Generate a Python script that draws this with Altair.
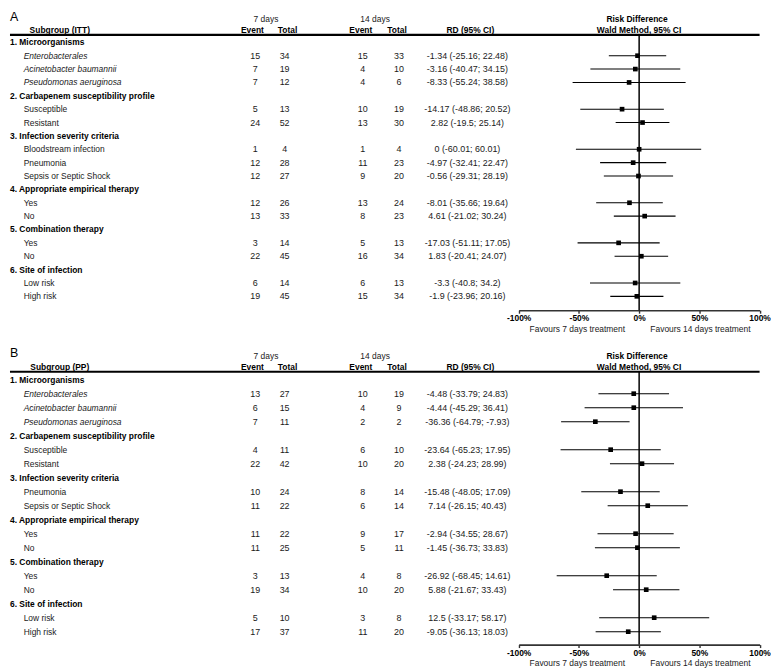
import altair as alt
import pandas as pd

FONT = "Liberation Sans"
TXT = "#1a1a1a"

# ---------------- Panel A (ITT) ----------------
a_labels = ["1. Microorganisms", "Enterobacterales", "Acinetobacter baumannii", "Pseudomonas aeruginosa",
            "2. Carbapenem susceptibility profile", "Susceptible", "Resistant",
            "3. Infection severity criteria", "Bloodstream infection", "Pneumonia", "Sepsis or Septic Shock",
            "4. Appropriate empirical therapy", "Yes", "No",
            "5. Combination therapy", "Yes", "No",
            "6. Site of infection", "Low risk", "High risk"]
a_kind = ["section", "italic", "italic", "italic", "section", "item", "item", "section", "item", "item", "item",
          "section", "item", "item", "section", "item", "item", "section", "item", "item"]
a_ev7 = [None, 15, 7, 7, None, 5, 24, None, 1, 12, 12, None, 12, 13, None, 3, 22, None, 6, 19]
a_tot7 = [None, 34, 19, 12, None, 13, 52, None, 4, 28, 27, None, 26, 33, None, 14, 45, None, 14, 45]
a_ev14 = [None, 15, 4, 4, None, 10, 13, None, 1, 11, 9, None, 13, 8, None, 5, 16, None, 6, 15]
a_tot14 = [None, 33, 10, 6, None, 19, 30, None, 4, 23, 20, None, 24, 23, None, 13, 34, None, 13, 34]
a_rdtxt = [None, "-1.34 (-25.16; 22.48)", "-3.16 (-40.47; 34.15)", "-8.33 (-55.24; 38.58)", None,
           "-14.17 (-48.86; 20.52)", "2.82 (-19.5; 25.14)", None, "0 (-60.01; 60.01)",
           "-4.97 (-32.41; 22.47)", "-0.56 (-29.31; 28.19)", None, "-8.01 (-35.66; 19.64)",
           "4.61 (-21.02; 30.24)", None, "-17.03 (-51.11; 17.05)", "1.83 (-20.41; 24.07)", None,
           "-3.3 (-40.8; 34.2)", "-1.9 (-23.96; 20.16)"]
a_rd = [None, -1.34, -3.16, -8.33, None, -14.17, 2.82, None, 0, -4.97, -0.56, None, -8.01, 4.61,
        None, -17.03, 1.83, None, -3.3, -1.9]
a_lo = [None, -25.16, -40.47, -55.24, None, -48.86, -19.5, None, -52.5, -32.41, -29.31, None, -35.66, -21.02,
        None, -51.11, -20.41, None, -40.8, -23.96]
a_hi = [None, 22.48, 34.15, 38.58, None, 20.52, 25.14, None, 51.5, 22.47, 28.19, None, 19.64, 30.24,
        None, 17.05, 24.07, None, 34.2, 20.16]

# ---------------- Panel B (PP) ----------------
b_labels = ["1. Microorganisms", "Enterobacterales", "Acinetobacter baumannii", "Pseudomonas aeruginosa",
            "2. Carbapenem susceptibility profile", "Susceptible", "Resistant",
            "3. Infection severity criteria", "Pneumonia", "Sepsis or Septic Shock",
            "4. Appropriate empirical therapy", "Yes", "No",
            "5. Combination therapy", "Yes", "No",
            "6. Site of infection", "Low risk", "High risk"]
b_kind = ["section", "italic", "italic", "italic", "section", "item", "item", "section", "item", "item",
          "section", "item", "item", "section", "item", "item", "section", "item", "item"]
b_ev7 = [None, 13, 6, 7, None, 4, 22, None, 10, 11, None, 11, 11, None, 3, 19, None, 5, 17]
b_tot7 = [None, 27, 15, 11, None, 11, 42, None, 24, 22, None, 22, 25, None, 13, 34, None, 10, 37]
b_ev14 = [None, 10, 4, 2, None, 6, 10, None, 8, 6, None, 9, 5, None, 4, 10, None, 3, 11]
b_tot14 = [None, 19, 9, 2, None, 10, 20, None, 14, 14, None, 17, 11, None, 8, 20, None, 8, 20]
b_rdtxt = [None, "-4.48 (-33.79; 24.83)", "-4.44 (-45.29; 36.41)", "-36.36 (-64.79; -7.93)", None,
           "-23.64 (-65.23; 17.95)", "2.38 (-24.23; 28.99)", None, "-15.48 (-48.05; 17.09)",
           "7.14 (-26.15; 40.43)", None, "-2.94 (-34.55; 28.67)", "-1.45 (-36.73; 33.83)", None,
           "-26.92 (-68.45; 14.61)", "5.88 (-21.67; 33.43)", None, "12.5 (-33.17; 58.17)",
           "-9.05 (-36.13; 18.03)"]
b_rd = [None, -4.48, -4.44, -36.36, None, -23.64, 2.38, None, -15.48, 7.14, None, -2.94, -1.45,
        None, -26.92, 5.88, None, 12.5, -9.05]
b_lo = [None, -33.79, -45.29, -64.79, None, -65.23, -24.23, None, -48.05, -26.15, None, -34.55, -36.73,
        None, -68.45, -21.67, None, -33.17, -36.13]
b_hi = [None, 24.83, 36.41, -7.93, None, 17.95, 28.99, None, 17.09, 40.43, None, 28.67, 33.83,
        None, 14.61, 33.43, None, 58.17, 18.03]

tick_values = [-100, -50, 0, 50, 100]

# ---------------- layout (pixels, local to each panel) ----------------
W = 758
XL, XR = 512.7, 755.5
COL_E7, COL_T7, COL_E14, COL_T14, COL_RD = 247.2, 276.8, 355.6, 392.1, 461.0
HDR_E7, HDR_T7, HDR_E14, HDR_T14, HDR_RD = 244.3, 279.8, 353.6, 390.1, 464.0
FS = 8.5
FSN = 9


def build_df(labels, kind, ev7, tot7, ev14, tot14, rdtxt, rd, lo, hi):
    s = lambda v: "" if v is None else str(v)
    return pd.DataFrame({
        "row": list(range(len(labels))),
        "label": labels,
        "kind": kind,
        "ev7": [s(v) for v in ev7],
        "tot7": [s(v) for v in tot7],
        "ev14": [s(v) for v in ev14],
        "tot14": [s(v) for v in tot14],
        "rdtxt": [s(v) for v in rdtxt],
        "rd": rd,
        "lo": lo,
        "hi": hi,
    })


DUMMY = pd.DataFrame({"d": [0]})


def txt(s, x, y, bold=False, size=FS, align="center", baseline="middle", color=TXT):
    return alt.Chart(DUMMY).mark_text(
        text=s, font=FONT, fontSize=size, fontWeight="bold" if bold else "normal",
        align=align, baseline=baseline, color=color,
    ).encode(x=alt.value(x), y=alt.value(y))


def make_axis():
    return alt.Axis(
        values=tick_values, labelExpr="datum.value + '%'", title=None, grid=False,
        domainColor="#333", domainWidth=1.6, tickColor="#333", tickWidth=1.4, tickSize=3,
        labelFont=FONT, labelFontSize=FS, labelFontWeight="bold", labelColor="black",
        labelPadding=0.5, labelFlush=False, labelOverlap=False)


def panel(df, letter, subgroup, y_hdr1, y_hdr2, y_line, y0, y1, y_axis, y_fav):
    n = len(df)
    yenc = alt.Y("row:Q", scale=alt.Scale(domain=[0, n - 1], range=[y0, y1]), axis=None)
    xscale = alt.Scale(domain=[-100, 100], range=[XL, XR], nice=False, zero=False)
    base = alt.Chart(df)
    items = base.transform_filter("datum.kind != 'section'")

    layers = []
    # forest first (carries the axis)
    layers.append(items.mark_rule(color="black", strokeWidth=1.1).encode(
        x=alt.X("lo:Q", scale=xscale, axis=make_axis()),
        x2="hi:Q", y=yenc))
    layers.append(alt.Chart(pd.DataFrame({"z": [0]})).mark_rule(color="black", strokeWidth=1.5).encode(
        x=alt.X("z:Q", scale=xscale, axis=make_axis()), y=alt.value(y_line), y2=alt.value(y_axis)))
    layers.append(items.mark_square(size=22, color="black", opacity=1).encode(
        x=alt.X("rd:Q", scale=xscale, axis=make_axis()), y=yenc))

    layers.append(base.transform_filter("datum.kind == 'section'").mark_text(
        align="left", baseline="middle", font=FONT, fontSize=FS, fontWeight="bold", color="black"
    ).encode(x=alt.value(0), y=yenc, text="label:N"))
    layers.append(base.transform_filter("datum.kind == 'item'").mark_text(
        align="left", baseline="middle", font=FONT, fontSize=FS, color=TXT
    ).encode(x=alt.value(13.8), y=yenc, text="label:N"))
    layers.append(base.transform_filter("datum.kind == 'italic'").mark_text(
        align="left", baseline="middle", font=FONT, fontSize=FS, fontStyle="italic", color=TXT
    ).encode(x=alt.value(13.8), y=yenc, text="label:N"))
    for field, xpos in [("ev7", COL_E7), ("tot7", COL_T7), ("ev14", COL_E14), ("tot14", COL_T14), ("rdtxt", COL_RD)]:
        layers.append(items.mark_text(
            align="center", baseline="middle", font=FONT, fontSize=FSN, color=TXT
        ).encode(x=alt.value(xpos), y=yenc, text=f"{field}:N"))

    # header
    layers.append(txt(letter, 0, 0, size=12.5, align="left", baseline="top", color="black"))
    layers.append(txt("7 days", 258, y_hdr1))
    layers.append(txt("14 days", 368, y_hdr1))
    layers.append(txt("Risk Difference", 632, y_hdr1, bold=True, color="black"))
    layers.append(txt(subgroup, 50.2, y_hdr2, bold=True, color="black"))
    layers.append(txt("Event", HDR_E7, y_hdr2, bold=True, color="black"))
    layers.append(txt("Total", HDR_T7, y_hdr2, bold=True, color="black"))
    layers.append(txt("Event", HDR_E14, y_hdr2, bold=True, color="black"))
    layers.append(txt("Total", HDR_T14, y_hdr2, bold=True, color="black"))
    layers.append(txt("RD (95% CI)", HDR_RD, y_hdr2, bold=True, color="black"))
    layers.append(txt("Wald Method, 95% CI", 634, y_hdr2, bold=True, color="black"))
    layers.append(alt.Chart(DUMMY).mark_rule(color="black", strokeWidth=2.2).encode(
        x=alt.value(0), x2=alt.value(XR), y=alt.value(y_line)))

    layers.append(txt("Favours 7 days treatment", 571.8, y_fav))
    layers.append(txt("Favours 14 days treatment", 695.9, y_fav))

    return alt.layer(*layers).properties(width=W, height=y_axis)


dfA = build_df(a_labels, a_kind, a_ev7, a_tot7, a_ev14, a_tot14, a_rdtxt, a_rd, a_lo, a_hi)
dfB = build_df(b_labels, b_kind, b_ev7, b_tot7, b_ev14, b_tot14, b_rdtxt, b_rd, b_lo, b_hi)

pA = panel(dfA, "A", "Subgroup (ITT)", 8.5, 19.5, 24.5, 32, 288, 302, 320.5)
pB = panel(dfB, "B", "Subgroup (PP)", 9, 20, 25, 33, 287, 300, 318.5)

chart = alt.vconcat(pA, pB, spacing=14).properties(padding=0).configure_view(strokeWidth=0)

chart.save("out.html", embed_options={"renderer": "svg", "actions": False})
